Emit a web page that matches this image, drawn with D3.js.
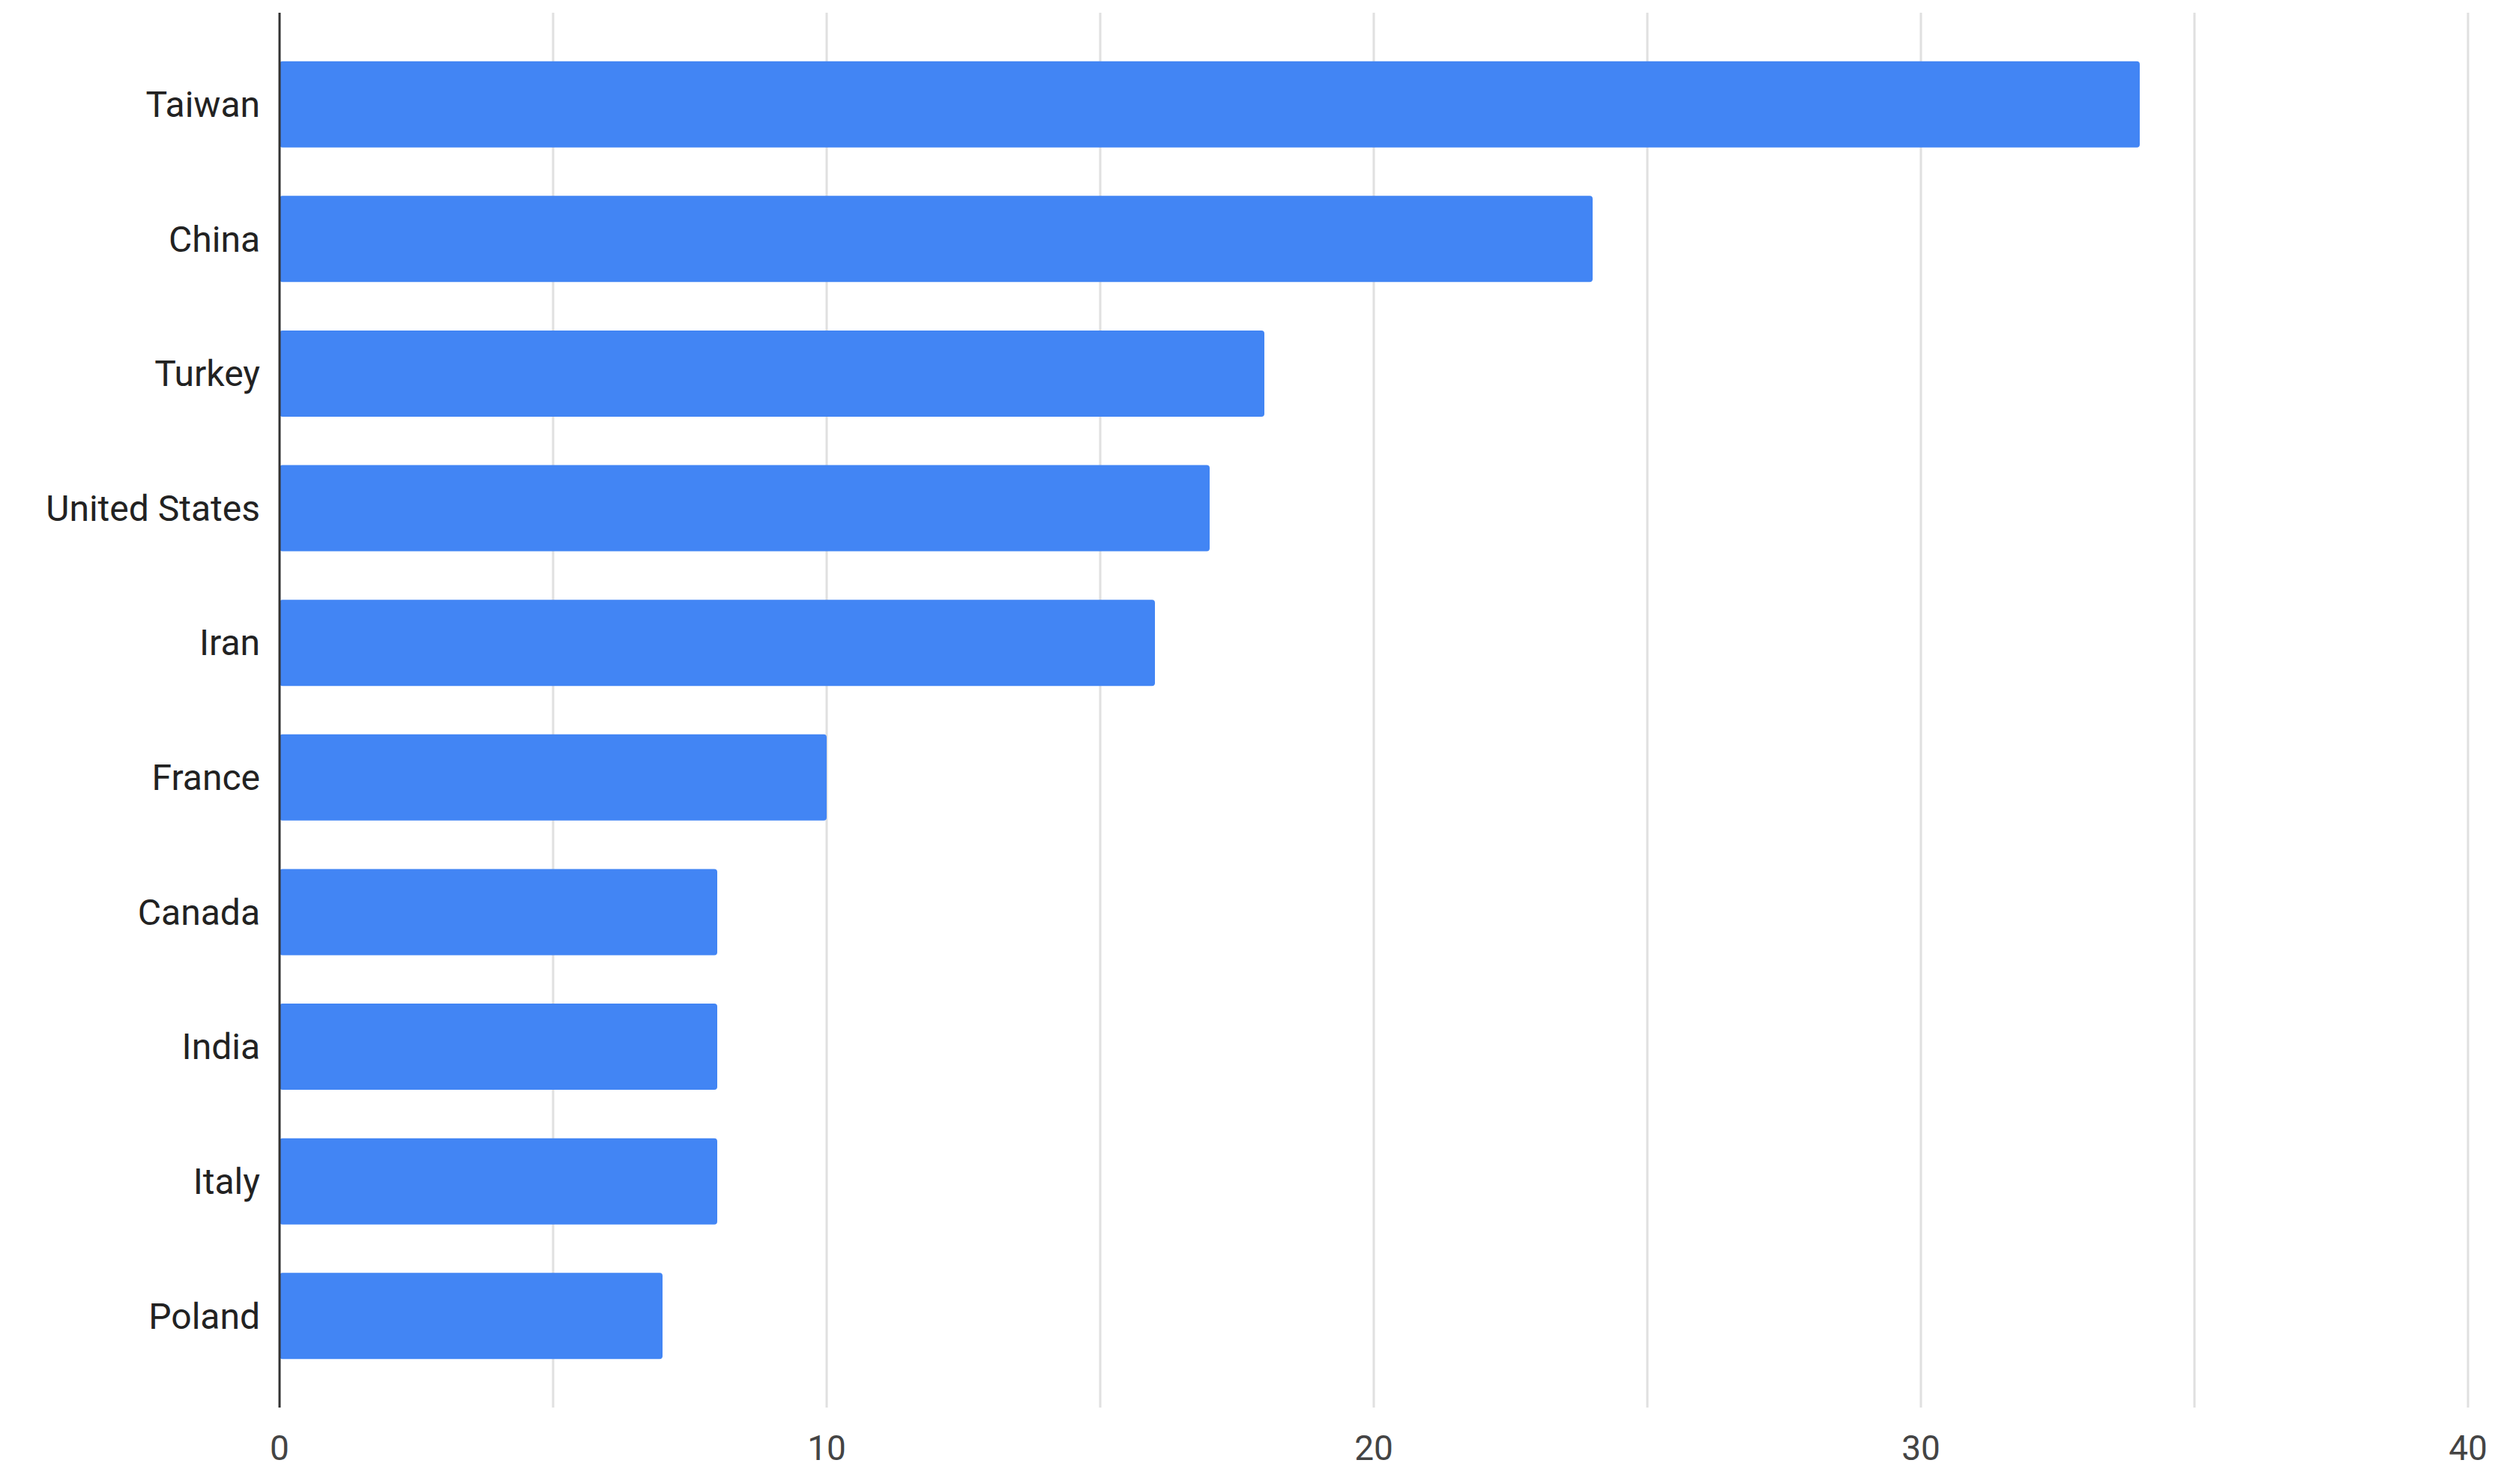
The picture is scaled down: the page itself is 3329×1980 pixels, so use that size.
<!DOCTYPE html>
<html>
<head>
<meta charset="utf-8">
<script src="https://cdn.jsdelivr.net/npm/d3@7"></script>
<style>
  body { margin: 0; background: #fff; }
  text { font-family: Roboto, Arial, sans-serif; }
</style>
</head>
<body>
<div class="canva"></div>
<script>
const countries = ["Taiwan", "China", "Turkey", "United States", "Iran", "France", "Canada", "India", "Italy", "Poland"];
const counts = [34, 24, 18, 17, 16, 10, 8, 8, 8, 7];
const xTicks = [0, 10, 20, 30, 40];
const gridTicks = [5, 10, 15, 20, 25, 30, 35, 40];

const WIDTH = 3329, HEIGHT = 1980;
const MARGIN = { TOP: 17, BOTTOM: 102, LEFT: 373, RIGHT: 36 };

const svg = d3.select(".canva").append("svg")
    .attr("width", WIDTH)
    .attr("height", HEIGHT);

const x = d3.scaleLinear().domain([0, 40]).range([MARGIN.LEFT, WIDTH - MARGIN.RIGHT]);
const y = d3.scaleBand().domain(countries).range([MARGIN.TOP, HEIGHT - MARGIN.BOTTOM]).padding(0.36);

// gridlines
svg.append("g").selectAll("line").data(gridTicks).enter().append("line")
    .attr("x1", d => x(d)).attr("x2", d => x(d))
    .attr("y1", MARGIN.TOP).attr("y2", HEIGHT - MARGIN.BOTTOM)
    .attr("stroke", "#e0e0e0")
    .attr("stroke-width", 3);

// bars
svg.append("g").selectAll("rect").data(countries).enter().append("rect")
    .attr("x", x(0))
    .attr("y", d => y(d))
    .attr("width", (d, i) => x(counts[i]) - x(0))
    .attr("height", y.bandwidth())
    .attr("rx", 4)
    .attr("fill", "#4285f4");

// y axis line
svg.append("line")
    .attr("x1", x(0)).attr("x2", x(0))
    .attr("y1", MARGIN.TOP).attr("y2", HEIGHT - MARGIN.BOTTOM)
    .attr("stroke", "#333").attr("stroke-width", 3);

// category labels
svg.append("g").selectAll("text").data(countries).enter().append("text")
    .attr("x", x(0) - 26)
    .attr("y", d => y(d) + y.bandwidth() / 2)
    .attr("dy", "0.35em")
    .attr("text-anchor", "end")
    .attr("font-size", 48)
    .attr("fill", "#222")
    .text(d => d);

// x tick labels
svg.append("g").selectAll("text").data(xTicks).enter().append("text")
    .attr("x", d => x(d))
    .attr("y", HEIGHT - MARGIN.BOTTOM + 70)
    .attr("text-anchor", "middle")
    .attr("font-size", 46)
    .attr("fill", "#444")
    .text(d => d);
</script>
</body>
</html>
